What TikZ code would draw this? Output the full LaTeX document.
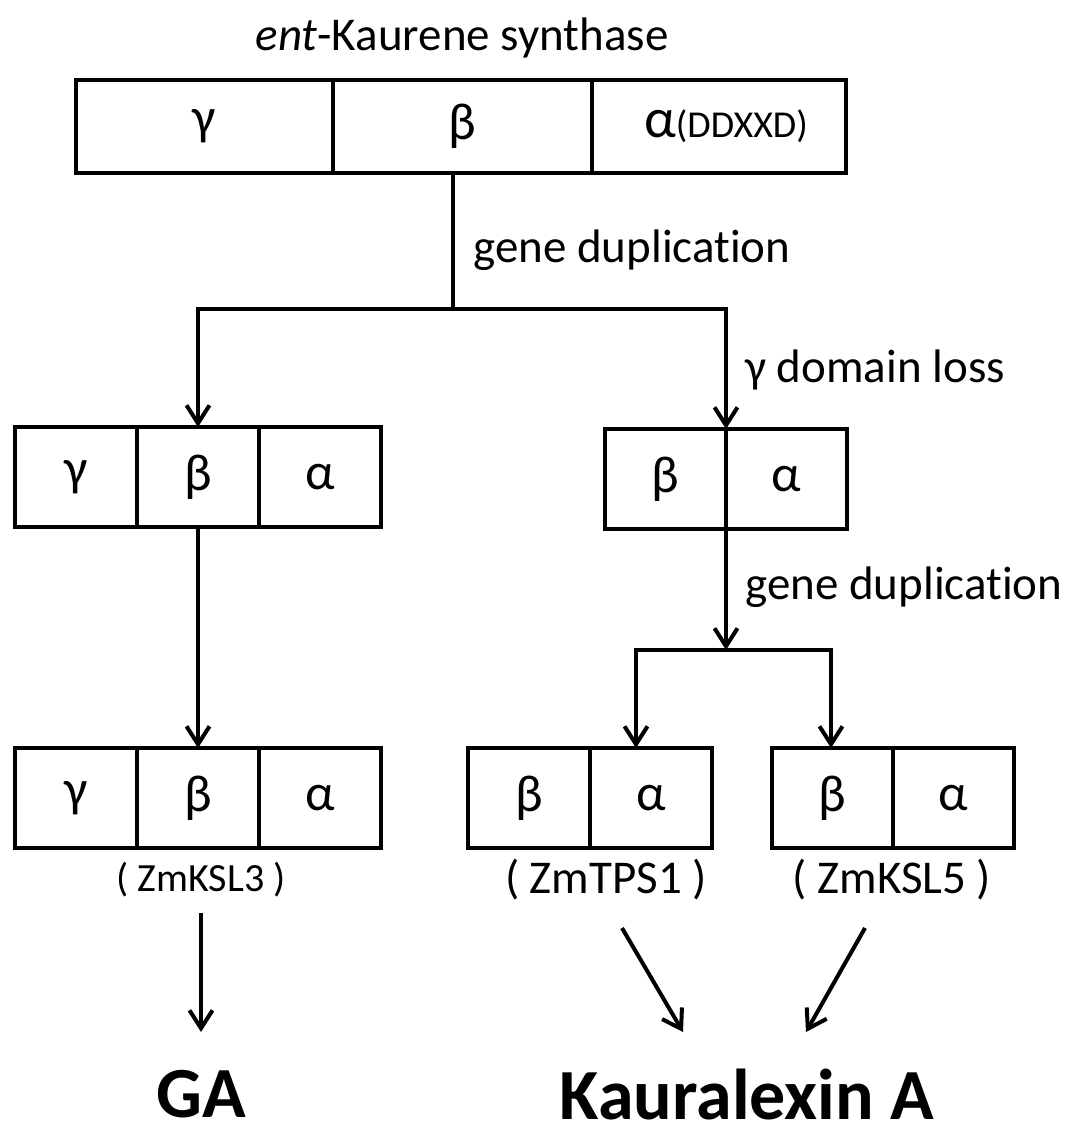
\documentclass[tikz,border=0pt]{standalone}
\usepackage{fontspec}
\setmainfont{Carlito}[Ligatures=NoCommon]
\usetikzlibrary{arrows.meta,positioning}

\tikzset{
  cell/.style={draw, line width=2.4pt, inner sep=0pt, outer sep=0pt,
    minimum width=61pt, minimum height=50pt, font=\fontsize{26}{30}\selectfont},
  lbl/.style={inner sep=0pt, font=\fontsize{23.5}{28}\selectfont},
  flow/.style={line width=2pt, -{Straight Barb[length=9pt,width=11.5pt,line width=2pt]}},
  link/.style={line width=2pt},
  product/.style={inner sep=0pt, font=\fontsize{36}{42}\selectfont\bfseries}
}

\begin{document}
\begin{tikzpicture}[x=0.5pt,y=-0.5pt]
  \useasboundingbox (0,0) rectangle (1074,1134);

  % ent-Kaurene synthase
  \node[lbl] (title) at (462,38) {\textit{ent}-Kaurene synthase};
  \node[cell, minimum width=128.5pt, minimum height=46.5pt] (ks-g) at (204.5,126.5) {γ};
  \node[cell, minimum width=129.5pt, minimum height=46.5pt, right=0pt of ks-g] (ks-b) {β};
  \node[cell, minimum width=127pt, minimum height=46.5pt, right=0pt of ks-b] (ks-a)
    {\hspace{7pt}{\fontsize{28}{30}\selectfont α}{\fontsize{19}{22}\selectfont(DDXXD)}};

  % primera duplicacion
  \coordinate (fork1) at (453,309);
  \draw[link] (ks-b.south -| fork1) -- (fork1);
  \node[lbl, anchor=west] (dup1) at (473,250) {gene duplication};
  \node[lbl, anchor=west] (loss) at (745,370) {γ domain loss};

  % rama izquierda
  \node[cell] (l2-g) at (76,477) {γ};
  \node[cell, right=0pt of l2-g] (l2-b) {β};
  \node[cell, right=0pt of l2-b] (l2-a) {α};

  % rama derecha
  \node[cell, minimum width=60.5pt] (r2-b) at (665.5,479) {β};
  \node[cell, minimum width=60.5pt, right=0pt of r2-b] (r2-a) {α};

  \draw[flow] (fork1) -| (l2-b.north);
  \draw[flow] (fork1) -| (r2-b.north east);

  % segunda duplicacion
  \coordinate (fork2) at (726,650);
  \coordinate (fork2l) at (636,650);
  \coordinate (fork2r) at (831,650);
  \draw[flow] (r2-b.south east) -- (fork2);
  \node[lbl, anchor=west] (dup2) at (745,587) {gene duplication};

  % enzimas
  \node[cell] (l3-g) at (76,798) {γ};
  \node[cell, right=0pt of l3-g] (l3-b) {β};
  \node[cell, right=0pt of l3-b] (l3-a) {α};
  \node[lbl, font=\fontsize{20}{24}\selectfont] (ksl3) at (201,880) {( ZmKSL3 )};

  \node[cell] (tps-b) at (529,798) {β};
  \node[cell, right=0pt of tps-b] (tps-a) {α};
  \node[lbl] (tps1) at (606,880) {( ZmTPS1 )};

  \node[cell, minimum width=60.5pt] (ksl-b) at (832.5,798) {β};
  \node[cell, minimum width=60.5pt, right=0pt of ksl-b] (ksl-a) {α};
  \node[lbl] (ksl5) at (892,880) {( ZmKSL5 )};

  \draw[flow] (l2-b.south) -- (l3-b.north);
  \draw[flow] (fork2) -| (fork2l |- tps-a.north);
  \draw[flow] (fork2) -| (fork2r |- ksl-b.north);

  % productos
  \node[product] (ga) at (201,1094) {GA};
  \node[product] (kx) at (747,1094) {Kauralexin A};

  \draw[flow] ([shift={(0,33)}]ksl3.center) -- ([shift={(0,-62)}]ga.center);
  \draw[flow] ([shift={(16,48)}]tps1.center) -- ([shift={(-64,-62)}]kx.center);
  \draw[flow] ([shift={(-27,48)}]ksl5.center) -- ([shift={(59,-62)}]kx.center);
\end{tikzpicture}
\end{document}
